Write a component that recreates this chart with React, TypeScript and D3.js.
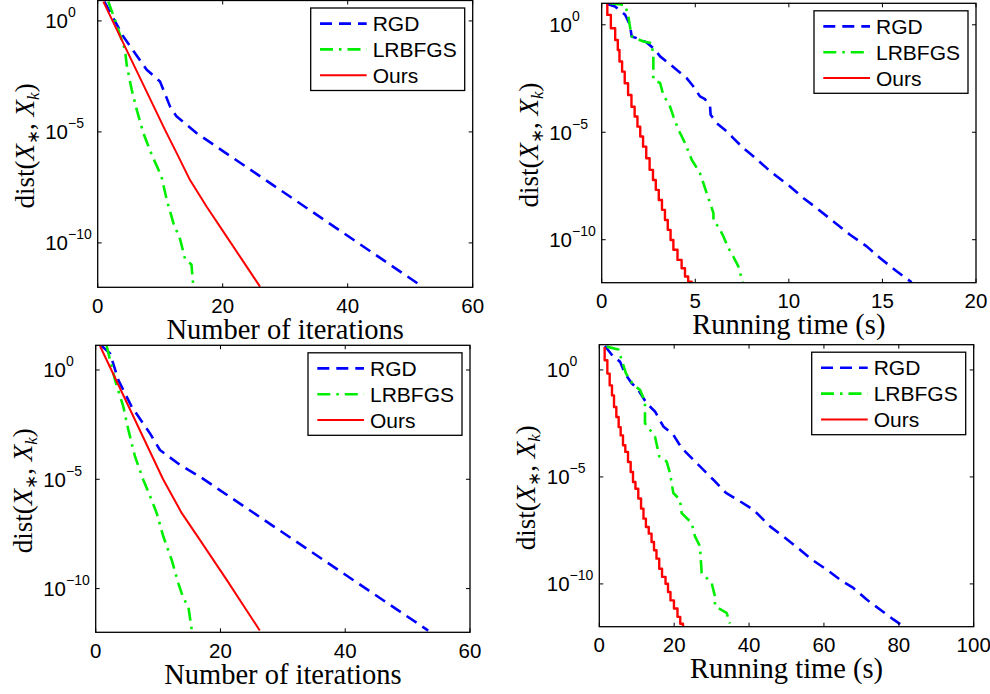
import React from 'react';
import * as d3 from 'd3';

// ---------- data ----------
const seriesNames = ['RGD', 'LRBFGS', 'Ours'];
const seriesColors = ['#0000ff', '#00ee00', '#ff0000'];

const iterTicks = [0, 20, 40, 60];
const timeTicksSmall = [0, 5, 10, 15, 20];
const timeTicksLarge = [0, 20, 40, 60, 80, 100];
const yTickExponents = [0, -5, -10];

// values are log10(dist)
// top-left: iterations
const p1RgdX = [1.07, 4.1, 7.84, 9.97, 11.57, 12.6, 15.8, 52];
const p1RgdY = [0.87, -0.7, -2.2, -2.73, -3.85, -4.3, -5.05, -11.98];
const p1LrX = [1.7, 2.77, 4.37, 4.64, 5.44, 6.24, 7.3, 8.64, 10.2, 11.04, 12.1, 13.2, 14, 15.0, 15.3];
const p1LrY = [0.87, 0.04, -1.3, -1.98, -3.1, -4.0, -5.05, -6.03, -7.0, -8.05, -9.1, -9.85, -10.75, -10.97, -11.98];
const p1OursX = [0.9, 10.77, 12.9, 14.77, 17.44, 20.1, 22.77, 25.97];
const p1OursY = [0.87, -4.91, -6.1, -7.17, -8.37, -9.49, -10.62, -11.97];

// top-right: running time
const p2RgdX = [0.27, 0.71, 1.25, 1.51, 1.6, 1.87, 2.4, 2.85, 3.12, 3.47, 4.0, 4.54, 4.9, 5.25, 5.52, 5.79, 5.82, 6.14, 6.68, 7.03, 7.57, 8.1, 8.82, 9.35, 10.06, 10.77, 11.49, 12.38, 13.27, 14.16, 14.87, 15.76, 16.56];
const p2RgdY = [0.98, 0.85, 0.47, 0.0, -0.54, -0.62, -0.82, -1.16, -1.47, -1.71, -2.09, -2.48, -2.87, -3.33, -3.46, -3.8, -4.19, -4.57, -4.96, -5.27, -5.74, -6.12, -6.67, -7.05, -7.52, -8.06, -8.53, -9.15, -9.77, -10.31, -10.85, -11.47, -11.98];
const p2LrX = [0.45, 1.25, 1.42, 1.6, 2.23, 2.67, 2.76, 2.76, 3.12, 3.29, 3.65, 3.83, 4.1, 4.45, 4.81, 5.25, 5.43, 5.61, 5.79, 5.97, 5.97, 6.23, 6.5, 6.77, 7.03, 7.3, 7.53];
const p2LrY = [1.0, 0.93, 0.39, -0.54, -0.78, -0.85, -1.47, -2.56, -2.71, -3.26, -3.8, -4.26, -4.88, -5.5, -6.28, -6.9, -7.36, -7.83, -8.29, -8.76, -9.15, -9.38, -9.84, -10.39, -10.78, -11.24, -11.98];
const p2OursX = [0.3, 0.49, 0.72, 0.86, 0.95, 1.09, 1.23, 1.41, 1.59, 1.76, 1.91, 2.06, 2.21, 2.38, 2.56, 2.74, 2.89, 3.05, 3.22, 3.38, 3.53, 3.68, 3.83, 4.05, 4.27, 4.45, 4.62, 4.81, 4.9];
const p2OursY = [1.0, 0.46, -0.16, -0.71, -1.17, -1.71, -2.18, -2.72, -3.27, -3.81, -4.27, -4.74, -5.2, -5.67, -6.21, -6.75, -7.22, -7.68, -8.15, -8.61, -9.08, -9.54, -10.01, -10.47, -10.94, -11.33, -11.71, -11.95, -12.3];

// bottom-left: iterations
const p3RgdX = [0.96, 2.3, 3.63, 5.77, 8.7, 10.3, 13.5, 16.7, 53.3];
const p3RgdY = [1.1, 0.76, -0.46, -1.68, -2.9, -3.66, -4.34, -4.88, -11.92];
const p3LrX = [1.76, 2.3, 3.1, 4.43, 5.24, 6.3, 7.64, 8.97, 9.78, 10.84, 12.18, 13.25, 14.05, 14.85, 15.38];
const p3LrY = [1.1, 0.46, -0.46, -1.68, -2.74, -3.96, -5.03, -5.95, -6.55, -7.62, -8.69, -9.76, -10.44, -10.82, -11.86];
const p3OursX = [0.69, 10.8, 13.8, 16.7, 21.0, 26.3];
const p3OursY = [1.1, -5.0, -6.55, -7.77, -9.6, -11.92];

// bottom-right: running time
const p4RgdX = [1.51, 3.74, 5.52, 6.86, 8.64, 10.42, 12.64, 14.87, 17.1, 19.77, 21.99, 24.22, 26.89, 30.45, 33.84, 37.58, 41.14, 45.59, 49.15, 53.61, 56.72, 60.73, 64.29, 67.85, 71.42, 74.98, 78.54, 81.2];
const p4RgdY = [1.12, 0.62, 0.39, -0.16, -0.62, -0.93, -1.56, -1.94, -2.64, -3.03, -3.65, -4.04, -4.51, -5.13, -5.75, -6.14, -6.53, -7.31, -7.78, -8.4, -8.86, -9.33, -9.8, -10.19, -10.73, -11.2, -11.66, -11.98];
const p4LrX = [1.96, 5.08, 5.97, 7.12, 9.08, 10.86, 12.2, 12.2, 14.87, 16.03, 17.99, 18.88, 19.77, 21.55, 21.99, 24.67, 25.56, 26.89, 27.34, 30.0, 30.89, 30.89, 34.0, 34.9];
const p4LrY = [1.09, 0.96, 0.47, -0.16, -0.7, -0.93, -1.48, -2.49, -3.11, -4.04, -4.28, -4.82, -5.75, -6.07, -6.69, -7.15, -7.78, -8.24, -9.49, -9.95, -10.58, -11.04, -11.35, -11.85];
const p4OursX = [1.43, 2.15, 2.77, 3.39, 3.93, 4.55, 5.17, 5.71, 6.33, 6.95, 7.67, 8.38, 9.0, 9.65, 10.41, 11.15, 11.8, 12.45, 13.21, 13.96, 14.61, 15.27, 16.01, 16.76, 17.69, 18.35, 19.01, 19.94, 20.88, 21.62, 22.36, 22.6];
const p4OursY = [1.07, 0.45, -0.17, -0.72, -1.19, -1.73, -2.2, -2.67, -3.06, -3.52, -3.83, -4.3, -4.77, -5.24, -5.55, -6.01, -6.48, -6.95, -7.34, -7.65, -8.04, -8.43, -8.82, -9.29, -9.67, -9.99, -10.38, -10.77, -11.15, -11.54, -11.86, -12.3];

const xLabelIter = 'Number of iterations';
const xLabelTime = 'Running time (s)';

// ---------- layout ----------
type Box = { left: number; right: number; top: number; bottom: number };
type PanelDef = {
  id: string;
  box: Box;
  yTopExp: number;
  xDomain: [number, number];
  xTicks: number[];
  xLabel: string;
  xs: number[][];
  ys: number[][];
  stepped: boolean;
};

const panels: PanelDef[] = [
  { id: 'p1', box: { left: 97.7, right: 472.7, top: 0.5, bottom: 287.3 }, yTopExp: 0.92, xDomain: [0, 60], xTicks: iterTicks, xLabel: xLabelIter, xs: [p1RgdX, p1LrX, p1OursX], ys: [p1RgdY, p1LrY, p1OursY], stepped: false },
  { id: 'p2', box: { left: 601.7, right: 976, top: 3.3, bottom: 282.7 }, yTopExp: 1.0, xDomain: [0, 20], xTicks: timeTicksSmall, xLabel: xLabelTime, xs: [p2RgdX, p2LrX, p2OursX], ys: [p2RgdY, p2LrY, p2OursY], stepped: true },
  { id: 'p3', box: { left: 95.7, right: 470, top: 345.3, bottom: 632.3 }, yTopExp: 1.13, xDomain: [0, 60], xTicks: iterTicks, xLabel: xLabelIter, xs: [p3RgdX, p3LrX, p3OursX], ys: [p3RgdY, p3LrY, p3OursY], stepped: false },
  { id: 'p4', box: { left: 599.3, right: 973.7, top: 344.7, bottom: 626.7 }, yTopExp: 1.18, xDomain: [0, 100], xTicks: timeTicksLarge, xLabel: xLabelTime, xs: [p4RgdX, p4LrX, p4OursX], ys: [p4RgdY, p4LrY, p4OursY], stepped: true },
];

const sans = '"Liberation Sans", Arial, Helvetica, sans-serif';
const serif = '"Liberation Serif", "Times New Roman", serif';
const dashes = ['12,7', '13,6,2.5,6', undefined];
const widths = [2.6, 2.6, 2.0];
const TICK = 4;

function Panel({ p }: { p: PanelDef }) {
  const { box } = p;
  const x = d3.scaleLinear().domain(p.xDomain).range([box.left, box.right]);
  const y = d3.scaleLog().domain([1e-12, Math.pow(10, p.yTopExp)]).range([box.bottom, box.top]);
  const mkLine = (stepped: boolean) =>
    d3
      .line<[number, number]>()
      .x((d) => x(d[0]))
      .y((d) => y(Math.pow(10, d[1])))
      .curve(stepped ? d3.curveStepBefore : d3.curveLinear);
  const cy = (box.top + box.bottom) / 2;
  const cx = (box.left + box.right) / 2;
  const lg = { w: 154, h: 82.5 };
  const lgX = box.right - 8 - lg.w;
  const lgY = box.top + 7.5;
  return (
    <g>
      <defs>
        <clipPath id={`clip-${p.id}`}>
          <rect x={box.left} y={box.top} width={box.right - box.left} height={box.bottom - box.top} />
        </clipPath>
      </defs>
      <g clipPath={`url(#clip-${p.id})`}>
        {p.xs.map((xs, i) => {
          const stepped = p.stepped && i === 2;
          return (
            <path
              key={i}
              d={mkLine(stepped)(xs.map((v, k) => [v, p.ys[i][k]] as [number, number])) || ''}
              fill="none"
              stroke={seriesColors[i]}
              strokeWidth={stepped ? 2.4 : widths[i]}
              strokeDasharray={dashes[i]}
              strokeLinejoin="round"
            />
          );
        })}
      </g>
      {/* box */}
      <rect x={box.left} y={box.top} width={box.right - box.left} height={box.bottom - box.top} fill="none" stroke="#000" strokeWidth={1.3} />
      {/* x ticks */}
      {p.xTicks.map((t) => (
        <g key={`xt${t}`}>
          <line x1={x(t)} x2={x(t)} y1={box.bottom} y2={box.bottom - TICK} stroke="#000" strokeWidth={1} />
          <line x1={x(t)} x2={x(t)} y1={box.top} y2={box.top + TICK} stroke="#000" strokeWidth={1} />
          <text x={x(t)} y={box.bottom + 25.5} textAnchor="middle" fontFamily={sans} fontSize={20.5}>
            {t}
          </text>
        </g>
      ))}
      {/* y ticks */}
      {yTickExponents.map((e) => {
        const ty = y(Math.pow(10, e));
        return (
          <g key={`yt${e}`}>
            <line x1={box.left} x2={box.left + TICK} y1={ty} y2={ty} stroke="#000" strokeWidth={1} />
            <line x1={box.right} x2={box.right - TICK} y1={ty} y2={ty} stroke="#000" strokeWidth={1} />
            <text x={box.left - 52.5} y={ty + 7.5} fontFamily={sans} fontSize={20.5}>
              10
              <tspan dy={-11} fontSize={14}>
                {e < 0 ? `\u2212${-e}` : `${e}`}
              </tspan>
            </text>
          </g>
        );
      })}
      {/* x label */}
      <text x={cx} y={box.bottom + 51.5} textAnchor="middle" fontFamily={serif} fontSize={28.5}>
        {p.xLabel}
      </text>
      {/* y label */}
      <text transform={`translate(${box.left - 64},${cy + 2}) rotate(-90)`} textAnchor="middle" fontFamily={serif} fontSize={27}>
        dist(
        <tspan fontStyle="italic">X</tspan>
        <tspan fontSize={17} dy={5}>{'\u2217'}</tspan>
        <tspan dy={-5}>, </tspan>
        <tspan fontStyle="italic">X</tspan>
        <tspan fontSize={17} fontStyle="italic" dy={5}>k</tspan>
        <tspan dy={-5}>)</tspan>
      </text>
      {/* legend */}
      <rect x={lgX} y={lgY} width={lg.w} height={lg.h} fill="#fff" stroke="#000" strokeWidth={1.3} />
      {seriesNames.map((n, i) => {
        const ry = lgY + 15.6 + i * 25.8;
        return (
          <g key={n}>
            <line x1={lgX + 9.3} x2={lgX + 56} y1={ry} y2={ry} stroke={seriesColors[i]} strokeWidth={widths[i]} strokeDasharray={dashes[i]} />
            <text x={lgX + 62} y={ry + 7.5} fontFamily={sans} fontSize={21}>
              {n}
            </text>
          </g>
        );
      })}
    </g>
  );
}

export default function App() {
  return (
    <svg width={990} height={694} style={{ position: 'absolute', left: 0, top: 0, background: '#fff' }}>
      <rect x={0} y={0} width={990} height={694} fill="#fff" />
      {panels.map((p) => (
        <Panel key={p.id} p={p} />
      ))}
    </svg>
  );
}
